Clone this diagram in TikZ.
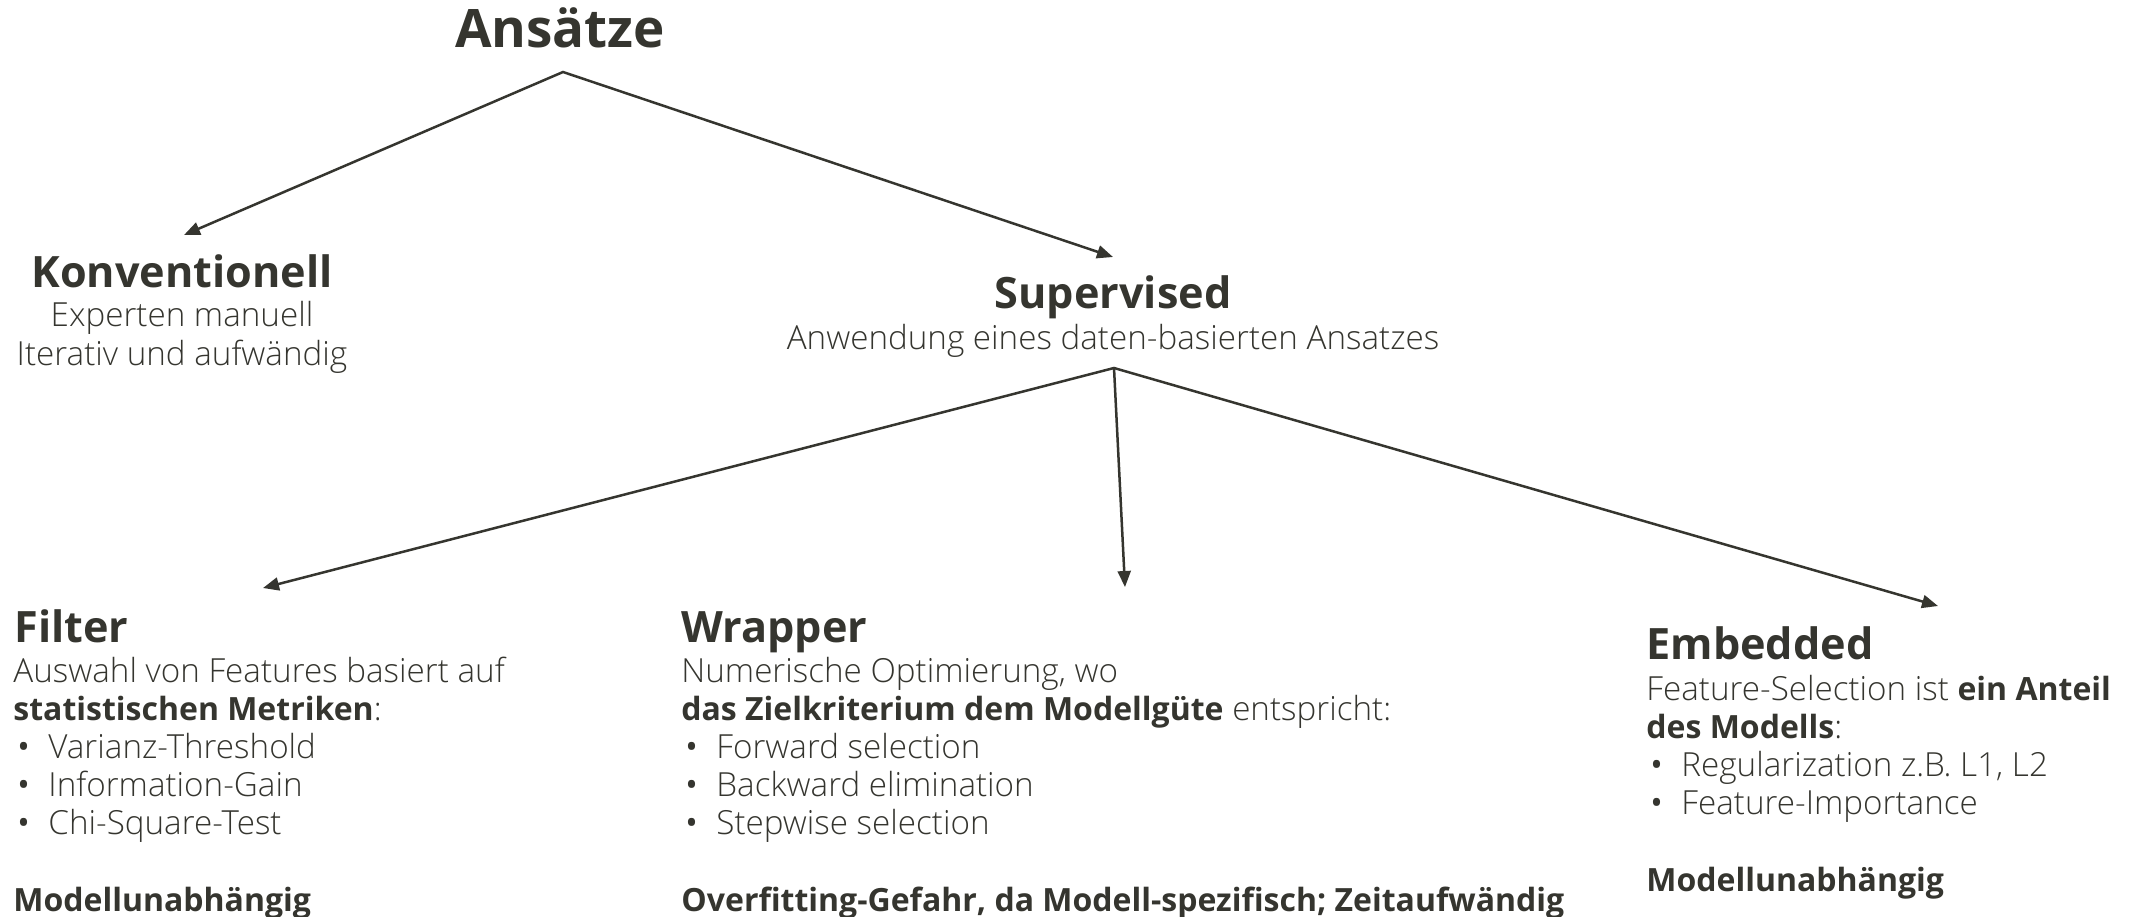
\documentclass[tikz,border=0pt]{standalone}
\usepackage{fontspec}
\setmainfont{Open Sans}[UprightFont=* Light, BoldFont=* Bold]
\newfontfamily\dotfont{Open Sans}
\usetikzlibrary{arrows.meta}
\definecolor{ink}{HTML}{35352F}
\newcommand\bodyfont{\fontsize{16.6}{19.1}\selectfont}
\newcommand\headfont{\fontsize{21.6}{26}\selectfont\bfseries}
\newcommand\titlefont{\fontsize{26.5}{32}\selectfont\bfseries}
\newcommand\bd[1]{{\fontsize{16}{19.1}\selectfont\bfseries #1}}
\newcommand\itm[1]{\hspace*{2pt}\makebox[15.5pt][l]{\dotfont •}#1}
\tikzset{
  title/.style={anchor=base, inner sep=0pt, font=\titlefont, text=ink},
  headc/.style={anchor=base, inner sep=0pt, font=\headfont, text=ink},
  headl/.style={anchor=base west, inner sep=0pt, font=\headfont, text=ink},
  bodyc/.style={anchor=base, inner sep=0pt, font=\bodyfont, text=ink},
  bodyl/.style={anchor=base west, inner sep=0pt, font=\bodyfont, text=ink},
  link/.style={draw=ink, line width=1.25pt, line join=miter},
  tip/.style={-{Triangle[length=8pt,width=6.5pt]}},
  tips/.style={{Triangle[length=8pt,width=6.5pt]}-{Triangle[length=8pt,width=6.5pt]}}
}
\begin{document}
\begin{tikzpicture}[x=0.5pt,y=-0.5pt]
\useasboundingbox[fill=white] (0,0) rectangle (2136,916);

% top level
\node[title] (ans) at (560,47) {Ansätze};
\coordinate (ansApex) at (563,72);

% first level
\node[headc] (konv) at (182,287) {Konventionell};
\node[bodyc] (konvtext) at (182,326)
  {\fontsize{16.6}{19.5}\selectfont\begin{tabular}[t]{@{}c@{}}Experten manuell\\ Iterativ und aufwändig\end{tabular}};
\coordinate (konvTip) at (184,235);

\node[headc] (sup) at (1113,308) {Supervised};
\node[bodyc] (suptext) at (1113,349) {Anwendung eines daten-basierten Ansatzes};
\coordinate (supTip) at (1113,257);
\coordinate (supApex) at (1114,368);

% second level
\node[headl] (fil) at (14,642) {Filter};
\node[bodyl] (filtext) at (13,682)
  {\begin{tabular}[t]{@{}l@{}}
   Auswahl von Features basiert auf\\
   \bd{statistischen Metriken}:\\
   \itm{Varianz-Threshold}\\
   \itm{Information-Gain}\\
   \itm{Chi-Square-Test}\\
   \\
   \bd{Modellunabhängig}
   \end{tabular}};
\coordinate (filTip) at (263,588);

\node[headl] (wrp) at (681,642) {Wrapper};
\node[bodyl] (wrptext) at (681,682)
  {\begin{tabular}[t]{@{}l@{}}
   Numerische Optimierung, wo\\
   \bd{das Zielkriterium dem Modellgüte} entspricht:\\
   \itm{Forward selection}\\
   \itm{Backward elimination}\\
   \itm{Stepwise selection}\\
   \\
   \bd{Overfitting-Gefahr, da Modell-spezifisch; Zeitaufwändig}
   \end{tabular}};
\coordinate (wrpTip) at (1125,587);

\node[headl] (emb) at (1646,659) {Embedded};
\node[bodyl] (embtext) at (1646,700)
  {\begin{tabular}[t]{@{}l@{}}
   Feature-Selection ist \bd{ein Anteil}\\
   \bd{des Modells}:\\
   \itm{Regularization z.B. L1, L2}\\
   \itm{Feature-Importance}\\
   \\
   \bd{Modellunabhängig}
   \end{tabular}};
\coordinate (embTip) at (1938,606);

% connectors
\draw[link,tips] (konvTip) -- (ansApex) -- (supTip);
\draw[link,tips] (filTip) -- (supApex) -- (embTip);
\draw[link,tip] (supApex) -- (wrpTip);
\end{tikzpicture}
\end{document}
